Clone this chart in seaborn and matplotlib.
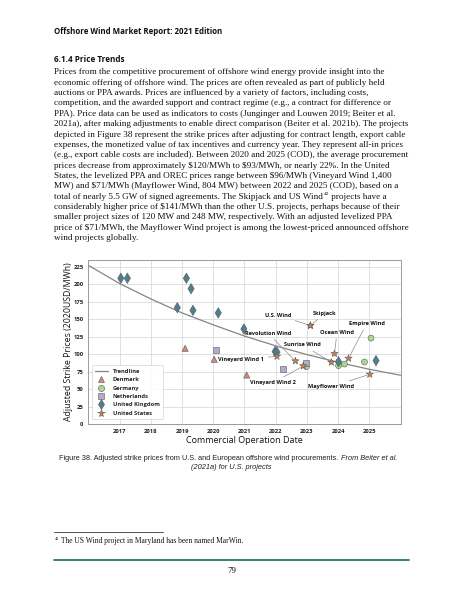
import numpy as np
import pandas as pd
import matplotlib
matplotlib.use("Agg")
import matplotlib.pyplot as plt
import seaborn as sns
from matplotlib.lines import Line2D

# ---------------- data ----------------
dk_year = [2019.10, 2020.03, 2021.07]
dk_price = [108.5, 92.8, 70.4]
de_year = [2022.98, 2024.01, 2024.20, 2024.84, 2025.05]
de_price = [82.3, 83.7, 86.0, 89.0, 123.0]
nl_year = [2020.08, 2022.22, 2022.96]
nl_price = [106.6, 79.0, 87.0]
uk_year = [2017.04, 2017.25, 2018.85, 2019.14, 2019.29, 2019.35, 2020.16,
           2020.98, 2021.98, 2022.04, 2024.01, 2025.21]
uk_price = [208.5, 208.5, 166.5, 208.5, 193.6, 162.7, 159.0,
            136.0, 104.0, 103.0, 89.4, 90.9]
us_names = ["Vineyard Wind 1", "Revolution Wind", "Vineyard Wind 2", "U.S. Wind",
            "Skipjack", "Sunrise Wind", "Ocean Wind", "Empire Wind", "Mayflower Wind"]
us_year = [2022.04, 2022.63, 2022.88, 2023.11, 2023.11, 2023.78, 2023.88, 2024.33, 2025.01]
us_price = [97.0, 90.4, 83.3, 141.0, 141.0, 88.5, 100.9, 94.2, 71.4]
# label anchor positions (data coords)
lab_year = [2020.90, 2021.75, 2021.91, 2022.07, 2023.57, 2022.87, 2023.96, 2024.91, 2023.76]
lab_price = [92.9, 130.0, 59.0, 156.0, 158.6, 113.3, 130.9, 143.7, 53.3]

trend_year = [2016, 2017, 2018, 2019, 2020, 2021, 2022, 2023, 2024, 2025, 2026]
trend_price = [227, 201, 179, 159, 142, 126, 112, 99.5, 88.5, 78.5, 70]

year_ticks = [2017, 2018, 2019, 2020, 2021, 2022, 2023, 2024, 2025]
price_ticks = [0, 25, 50, 75, 100, 125, 150, 175, 200, 225]

countries = ["Denmark", "Germany", "Netherlands", "United Kingdom", "United States"]

body_lines = [
    "Prices from the competitive procurement of offshore wind energy provide insight into the",
    "economic offering of offshore wind. The prices are often revealed as part of publicly held",
    "auctions or PPA awards. Prices are influenced by a variety of factors, including costs,",
    "competition, and the awarded support and contract regime (e.g., a contract for difference or",
    "PPA). Price data can be used as indicators to costs (Junginger and Louwen 2019; Beiter et al.",
    "2021a), after making adjustments to enable direct comparison (Beiter et al. 2021b). The projects",
    "depicted in Figure 38 represent the strike prices after adjusting for contract length, export cable",
    "expenses, the monetized value of tax incentives and currency year. They represent all-in prices",
    "(e.g., export cable costs are included). Between 2020 and 2025 (COD), the average procurement",
    "prices decrease from approximately $120/MWh to $93/MWh, or nearly 22%. In the United",
    "States, the levelized PPA and OREC prices range between $96/MWh (Vineyard Wind 1,400",
    "MW) and $71/MWh (Mayflower Wind, 804 MW) between 2022 and 2025 (COD), based on a",
    "total of nearly 5.5 GW of signed agreements. The Skipjack and US Wind|42| projects have a",
    "considerably higher price of $141/MWh than the other U.S. projects, perhaps because of their",
    "smaller project sizes of 120 MW and 248 MW, respectively. With an adjusted levelized PPA",
    "price of $71/MWh, the Mayflower Wind project is among the lowest-priced announced offshore",
    "wind projects globally.",
]

# ---------------- figure ----------------
W, H = 463, 599
sns.set_theme(style="whitegrid")
plt.rcParams['font.family'] = ['DejaVu Sans']
fig = plt.figure(figsize=(W / 100, H / 100), dpi=100)
fig.patch.set_facecolor("white")
renderer = fig.canvas.get_renderer()


def fx(x):
    return x / W


def fy(y):
    return 1 - y / H


def width_of(t):
    return t.get_window_extent(renderer).width


def place(text, x, y, size, target_w=None, ha="left", **kw):
    t = fig.text(fx(x), fy(y), text, fontsize=size, ha=ha, va="center", **kw)
    if target_w is not None:
        t.set_fontsize(size * target_w / width_of(t))
    return t


def size_for(text, target_w, **kw):
    t = fig.text(0, 0, text, fontsize=10, **kw)
    w = width_of(t)
    t.remove()
    return 10 * target_w / w


serif = ["Liberation Serif", "DejaVu Serif"]
sans = ["Liberation Sans", "DejaVu Sans"]
chart_font = ["Open Sans", "DejaVu Sans"]

# header & heading
place("Offshore Wind Market Report: 2021 Edition", 54.3, 31.7, 5.2, target_w=168,
      family=["Open Sans", "DejaVu Sans"], fontweight="bold", color="#111111")
place("6.1.4 Price Trends", 54.3, 60.0, 6.0, target_w=70.4,
      family=["Open Sans", "DejaVu Sans"], fontweight="bold", color="#111111")

# body text
body_size = size_for(body_lines[5], 350.0, family=serif)
y0, dy = 72.3, 10.37
for i, line in enumerate(body_lines):
    y = y0 + i * dy
    if "|42|" in line:
        a, rest = line.split("|42|")
        t1 = place(a.replace("$", r"\$"), 54.3, y, body_size, family=serif, color="#111111")
        x2 = 54.3 + width_of(t1)
        t2 = place("42", x2 + 0.3, y - 2.5, body_size * 0.58, family=serif, color="#111111")
        x3 = x2 + 0.6 + width_of(t2)
        place(rest.replace("$", r"\$"), x3, y, body_size, family=serif, color="#111111")
    else:
        place(line.replace("$", r"\$"), 54.3, y, body_size, family=serif, color="#111111")

# ---------------- chart ----------------
ax_l, ax_r, ax_t, ax_b = 88.3, 400.7, 259.7, 424.3
ax = fig.add_axes([fx(ax_l), fy(ax_b), (ax_r - ax_l) / W, (ax_b - ax_t) / H])
ax.set_facecolor("white")

df = pd.concat([
    pd.DataFrame({"year": dk_year, "price": dk_price, "country": "Denmark"}),
    pd.DataFrame({"year": de_year, "price": de_price, "country": "Germany"}),
    pd.DataFrame({"year": nl_year, "price": nl_price, "country": "Netherlands"}),
    pd.DataFrame({"year": uk_year, "price": uk_price, "country": "United Kingdom"}),
    pd.DataFrame({"year": us_year, "price": us_price, "country": "United States"}),
], ignore_index=True)
trend_df = pd.DataFrame({"year": trend_year, "price": trend_price})

palette = {"Denmark": "#d3877c", "Germany": "#aad890", "Netherlands": "#b8a8c8",
           "United Kingdom": "#4e7f8c", "United States": "#d07e4c"}
markers = {"Denmark": "^", "Germany": "o", "Netherlands": "s",
           "United Kingdom": "d", "United States": "*"}
sizes = {"Denmark": 20, "Germany": 18, "Netherlands": 20,
         "United Kingdom": 28, "United States": 30}

sns.lineplot(data=trend_df, x="year", y="price", color="#858585", lw=0.9, ax=ax,
             zorder=2, legend=False)
sns.scatterplot(data=df, x="year", y="price", hue="country", style="country",
                size="country", palette=palette, markers=markers, sizes=sizes,
                hue_order=countries, style_order=countries, size_order=countries,
                edgecolor="#5a5a5a", linewidth=0.4, ax=ax, zorder=3, legend=False)

tick_size = size_for("2017", 13.5, family=chart_font, fontweight="bold")
ax.set_xlim(2016, 2026)
ax.set_ylim(0, 235)
ax.set_xticks(year_ticks)
ax.set_yticks(price_ticks)
ax.set_xticklabels([str(v) for v in year_ticks], fontsize=tick_size, fontweight="bold",
                   family=chart_font)
ax.set_yticklabels([str(v) for v in price_ticks], fontsize=tick_size, fontweight="bold",
                   family=chart_font)
ax.tick_params(axis="both", length=1.5, width=0.5, color="#9a9a9a", pad=2.0,
               labelcolor="#222222")
ax.grid(True, color="#dadada", lw=0.6)
for s in ax.spines.values():
    s.set_visible(True)
    s.set_color("#9a9a9a")
    s.set_linewidth(0.7)

xl_size = size_for("Commercial Operation Date", 117.0, family=chart_font)
yl_size = size_for("Adjusted Strike Prices (2020USD/MWh)", 158.0, family=chart_font)
ax.set_xlabel("Commercial Operation Date", fontsize=xl_size, family=chart_font,
              color="#111111")
ax.set_ylabel("Adjusted Strike Prices (2020USD/MWh)", fontsize=yl_size,
              family=chart_font, color="#111111")
ax.xaxis.set_label_coords(0.5, (ax_b - 440.5) / (ax_b - ax_t))
ax.yaxis.set_label_coords((68.5 - ax_l) / (ax_r - ax_l), 0.5)
ax.xaxis.label.set_va("center")
ax.yaxis.label.set_va("center")

# annotations
ann_size = size_for("Vineyard Wind 1", 45.7, family=chart_font, fontweight="bold")
for name, xv, yv, lx, ly in zip(us_names, us_year, us_price, lab_year, lab_price):
    ax.annotate(name, xy=(xv, yv), xytext=(lx, ly), ha="center", va="center",
                fontsize=ann_size, fontweight="bold", family=chart_font,
                color="#111111", zorder=5,
                arrowprops=dict(arrowstyle="-", color="#8a8a8a", lw=0.5,
                                shrinkA=0.5, shrinkB=2.2))

# legend
leg_size = size_for("United Kingdom", 46.0, family=chart_font, fontweight="bold")
handles = [Line2D([0], [0], color="#858585", lw=0.9, label="Trendline")]
for c in countries:
    handles.append(Line2D([0], [0], ls="none", marker=markers[c],
                          markerfacecolor=palette[c], markeredgecolor="#5a5a5a",
                          markeredgewidth=0.4,
                          markersize=np.sqrt(sizes[c]) * 1.05, label=c))
leg = ax.legend(handles=handles, loc="lower left", bbox_to_anchor=(0.005, 0.02),
                prop={"size": leg_size, "weight": "bold", "family": chart_font},
                frameon=True, fancybox=True,
                borderpad=0.6, labelspacing=0.6, handlelength=2.2,
                handletextpad=0.9, borderaxespad=0.3)
leg.get_frame().set_edgecolor("#d0d0d0")
leg.get_frame().set_linewidth(0.5)
leg.get_frame().set_alpha(0.9)

# caption
cap_size = 4.9
c1 = "Figure 38. Adjusted strike prices from U.S. and European offshore wind procurements. "
c2 = "From Beiter et al."
t1 = place(c1, 59.3, 459.0, cap_size, family=sans, color="#222222")
t2 = place(c2, 59.3 + width_of(t1), 459.0, cap_size, family=sans, style="italic",
           color="#222222")
total = width_of(t1) + width_of(t2)
scale = 340.7 / total
t1.set_fontsize(cap_size * scale)
t2.set_fontsize(cap_size * scale)
t2.set_position((fx(59.3 + width_of(t1)), fy(459.0)))
place("(2021a) for U.S. projects", 231.0, 467.3, cap_size * scale, ha="center",
      family=sans, style="italic", color="#222222")

# footnote
fig.add_artist(Line2D([fx(54.3), fx(163.3)], [fy(531.7), fy(531.7)], color="#333333",
                      lw=0.6, transform=fig.transFigure))
place("42", 54.5, 538.8, 3.2, family=serif, color="#111111")
place("The US Wind project in Maryland has been named MarWin.", 61.0, 540.9, 5.4,
      target_w=183.0, family=serif, color="#111111")
fig.add_artist(Line2D([fx(54.3), fx(408.7)], [fy(560.0), fy(560.0)], color="#2a7a5c",
                      lw=1.3, transform=fig.transFigure))
place("79", 231.5, 571.0, 6.5, ha="center", family=serif, color="#111111")

fig.savefig("out.png", dpi=100, facecolor="white")
